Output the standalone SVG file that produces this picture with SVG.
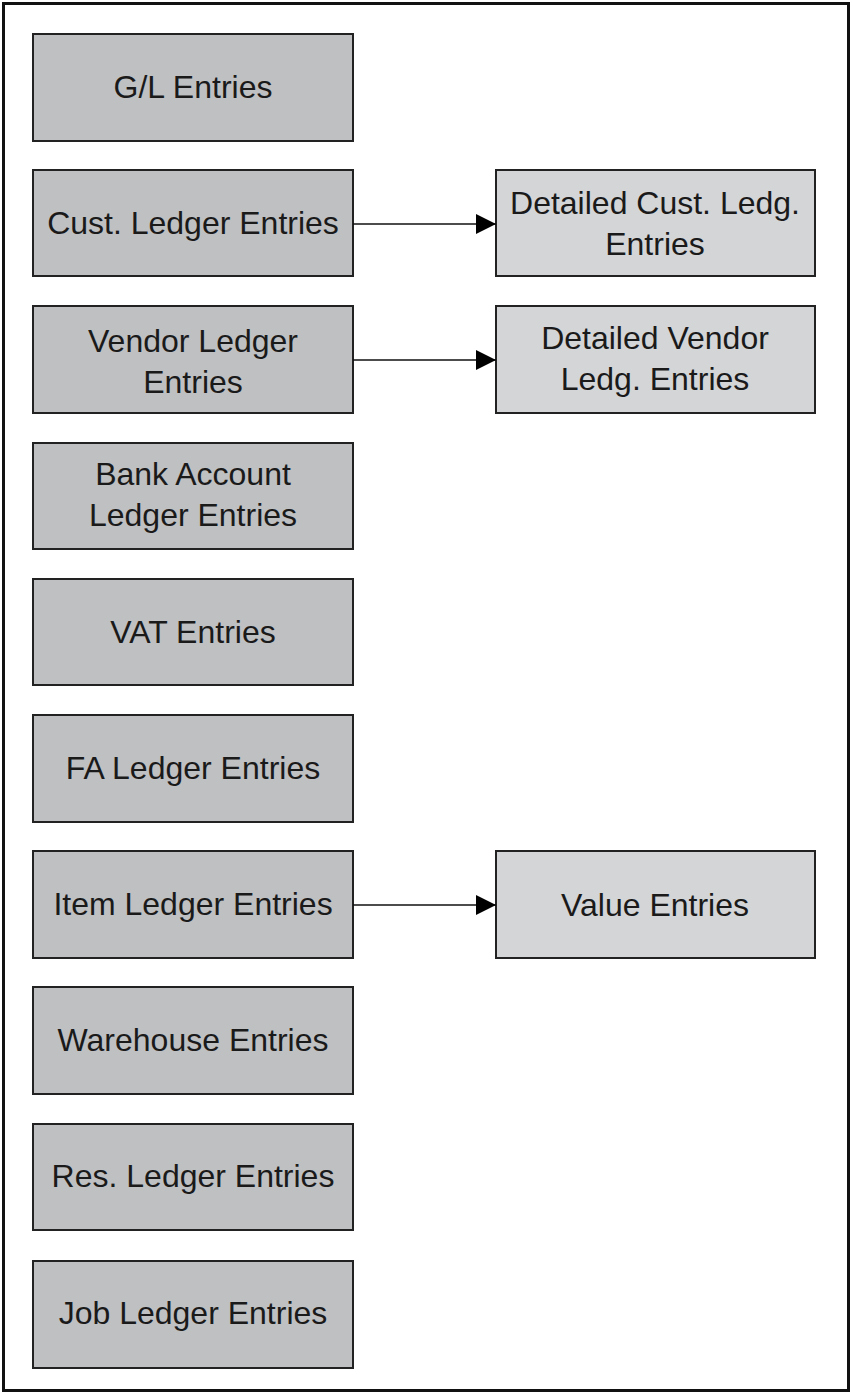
<svg xmlns="http://www.w3.org/2000/svg" width="853" height="1395" viewBox="0 0 853 1395">
<defs>
<style>
.frame{fill:#fff;stroke:#111;stroke-width:3}
.l{fill:#bfc0c2;stroke:#222;stroke-width:2}
.r{fill:#d4d5d7;stroke:#222;stroke-width:2}
text{font-family:"Liberation Sans",Arial,sans-serif;font-size:32px;fill:#1a1a1a;text-anchor:middle}
.c{stroke:#111;stroke-width:1.5;fill:none}
</style>
<marker id="ah" markerWidth="20" markerHeight="20" viewBox="0 0 20 20" refX="20" refY="10" orient="auto" markerUnits="userSpaceOnUse">
<path d="M0,0 L20,10 L0,20 Z" fill="#000"/>
</marker>
</defs>
<rect class="frame" x="3.5" y="3.5" width="845" height="1387"/>
<g id="gl"><rect class="l" x="33" y="34" width="320" height="107"/><text x="193" y="98">G/L Entries</text></g>
<g id="cust"><rect class="l" x="33" y="170" width="320" height="106"/><text x="193" y="234">Cust. Ledger Entries</text></g>
<g id="vendor"><rect class="l" x="33" y="306" width="320" height="107"/><text x="193" y="352">Vendor Ledger</text><text x="193" y="393">Entries</text></g>
<g id="bank"><rect class="l" x="33" y="443" width="320" height="106"/><text x="193" y="485">Bank Account</text><text x="193" y="526">Ledger Entries</text></g>
<g id="vat"><rect class="l" x="33" y="579" width="320" height="106"/><text x="193" y="643">VAT Entries</text></g>
<g id="fa"><rect class="l" x="33" y="715" width="320" height="107"/><text x="193" y="779">FA Ledger Entries</text></g>
<g id="item"><rect class="l" x="33" y="851" width="320" height="107"/><text x="193" y="915">Item Ledger Entries</text></g>
<g id="warehouse"><rect class="l" x="33" y="987" width="320" height="107"/><text x="193" y="1051">Warehouse Entries</text></g>
<g id="res"><rect class="l" x="33" y="1124" width="320" height="106"/><text x="193" y="1187">Res. Ledger Entries</text></g>
<g id="job"><rect class="l" x="33" y="1261" width="320" height="107"/><text x="193" y="1324">Job Ledger Entries</text></g>
<g id="detcust"><rect class="r" x="496" y="170" width="319" height="106"/><text x="655" y="214">Detailed Cust. Ledg.</text><text x="655" y="255">Entries</text></g>
<g id="detvendor"><rect class="r" x="496" y="306" width="319" height="107"/><text x="655" y="349">Detailed Vendor</text><text x="655" y="390">Ledg. Entries</text></g>
<g id="value"><rect class="r" x="496" y="851" width="319" height="107"/><text x="655" y="916">Value Entries</text></g>
<g id="connectors">
<line class="c" x1="353" y1="224" x2="496" y2="224" marker-end="url(#ah)"/>
<line class="c" x1="353" y1="360" x2="496" y2="360" marker-end="url(#ah)"/>
<line class="c" x1="353" y1="905" x2="496" y2="905" marker-end="url(#ah)"/>
</g>
</svg>
